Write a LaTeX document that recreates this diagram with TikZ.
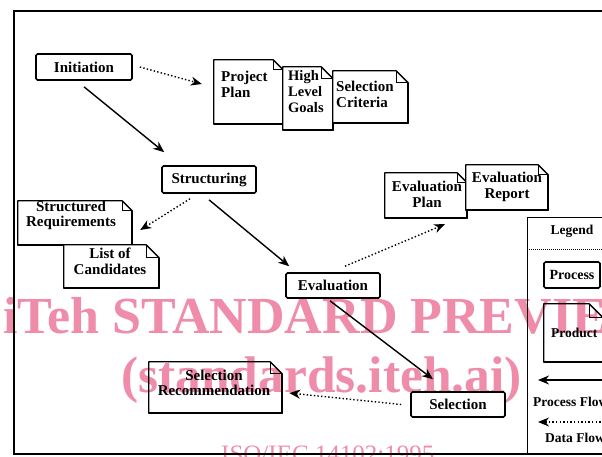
\documentclass[tikz,border=0pt]{standalone}
\usepackage{fontspec}
\setmainfont{Liberation Serif}
\usetikzlibrary{arrows.meta}
\definecolor{wmpink}{RGB}{238,140,170}
\newcommand\docout[2][10pt]{%
  \fill[white] (#2.north west) -- ([xshift=-#1]#2.north east) -- ([yshift=-#1]#2.north east) -- (#2.south east) -- (#2.south west) -- cycle;
  \draw[line width=1.3pt, line join=round] (#2.north west) -- ([xshift=-#1]#2.north east) -- ([yshift=-#1]#2.north east) -- (#2.south east) -- (#2.south west) -- cycle;
  \draw[line width=1.1pt] ([xshift=-#1]#2.north east) |- ([yshift=-#1]#2.north east);
  \draw[line width=2pt, line join=round] ([yshift=-#1]#2.north east) -- (#2.south east) -- (#2.south west);
}
\begin{document}
\begin{tikzpicture}[x=1pt,y=-1pt,
  procbox/.style={draw, line width=1.6pt, rounded corners=1.5pt, fill=white,
    font=\fontsize{15}{16}\selectfont\bfseries, inner sep=0pt},
  docbox/.style={inner sep=0pt, draw=none},
  doctext/.style={font=\fontsize{15}{15.5}\selectfont\bfseries, inner sep=0pt},
  legtext/.style={font=\fontsize{13.5}{14}\selectfont\bfseries, inner sep=0pt},
  flow/.style={line width=1.4pt, -{Stealth[length=11pt,width=9pt,inset=3.5pt]}},
  dataflow/.style={line width=1.4pt, dash pattern=on 1.4pt off 2.2pt,
    -{Stealth[length=11pt,width=9pt,inset=3.5pt]}},
  wm/.style={text=wmpink, font=\fontsize{52}{52}\selectfont\bfseries, inner sep=0pt, anchor=base west},
]
\useasboundingbox[fill=white] (0,0) rectangle (602,456);

% frame
\draw[line width=1.8pt] (620,11) -- (14,11) -- (14,454) -- (620,454);

% processes
\node[procbox, minimum width=96pt, minimum height=26pt] (init) at (84,67) {Initiation};
\node[procbox, minimum width=94pt, minimum height=27pt] (struct) at (209,179.5) {Structuring};
\node[procbox, minimum width=94pt, minimum height=25pt] (eval) at (333,285.5) {Evaluation};
\node[procbox, minimum width=94pt, minimum height=25pt] (sel) at (458,404.5) {Selection};

% documents
\node[docbox, minimum width=69pt, minimum height=64pt] (pp) at (248.5,92) {};
\docout{pp}
\node[doctext, anchor=west, align=left] (pptext) at (221,84.5) {Project\\Plan};
\node[docbox, minimum width=50pt, minimum height=63pt] (hlg) at (308,98.5) {};
\docout[12pt]{hlg}
\node[doctext, anchor=west, align=left, font=\fontsize{14.5}{16}\selectfont\bfseries] (hlgtext) at (288,91.5) {High\\Level\\Goals};
\node[docbox, minimum width=75pt, minimum height=52pt] (sc) at (370.5,97) {};
\docout[12pt]{sc}
\node[doctext, anchor=west, align=left] (sctext) at (336,94.5) {Selection\\Criteria};

\node[docbox, minimum width=114pt, minimum height=44pt] (sr) at (75,223) {};
\docout{sr}
\node[doctext, align=center] (srtext) at (71,215.5) {Structured\\Requirements};
\node[docbox, minimum width=95pt, minimum height=43pt] (loc) at (111.5,266.5) {};
\docout[13pt]{loc}
\node[doctext, align=center] (loctext) at (110,261.5) {List of\\Candidates};

\node[docbox, minimum width=82pt, minimum height=45pt] (ep) at (426,195.5) {};
\docout{ep}
\node[doctext, align=center] (eptext) at (427,194.5) {Evaluation\\Plan};
\node[docbox, minimum width=82pt, minimum height=45pt] (er) at (507,187.5) {};
\docout{er}
\node[doctext, align=center] (ertext) at (507,187) {Evaluation\\Report};

\node[docbox, minimum width=133pt, minimum height=51pt] (srec) at (215.5,387.5) {};
\docout[12pt]{srec}
\node[doctext, align=center] (srectext) at (214,383) {Selection\\Recommendation};

% flows
\draw[dataflow] ([xshift=7pt]init.east) -- ([xshift=-12pt,yshift=8pt]pp.west);
\draw[flow] ([yshift=-6pt]init.south) -- ([xshift=3pt,yshift=13pt]struct.north west);
\draw[dataflow] ([xshift=-19pt,yshift=-5pt]struct.south) -- ([xshift=8pt,yshift=-7pt]sr.east);
\draw[flow] ([yshift=-6pt]struct.south) -- ([xshift=4pt,yshift=6pt]eval.north west);
\draw[dataflow] ([xshift=12pt,yshift=6pt]eval.north) -- ([xshift=19pt,yshift=-6pt]ep.south);
\draw[flow] ([xshift=-3pt,yshift=-2pt]eval.south) -- ([xshift=-25pt,yshift=12pt]sel.north);
\draw[dataflow] ([xshift=-9pt]sel.west) -- ([xshift=7pt,yshift=-5.5pt]srec.east);

% legend
\node[draw, line width=1.4pt, minimum width=100pt, minimum height=237pt, anchor=north west, inner sep=0pt] (legend) at (527,217) {};
\draw[line width=0.6pt, dash pattern=on 1pt off 1pt] ([yshift=-32pt]legend.north west) -- ([yshift=-32pt]legend.north east);
\node[legtext] (legtitle) at (572,231) {Legend};
\node[procbox, minimum width=56pt, minimum height=26pt, font=\fontsize{14}{15}\selectfont\bfseries] (lproc) at (572,275) {Process};
\node[docbox, minimum width=59pt, minimum height=58pt] (lprod) at (573.5,333) {};
\docout[14pt]{lprod}
\node[legtext, anchor=west] (lprodtext) at (551,333) {Product};
\coordinate (pfr) at (615,380);
\coordinate (pfl) at (538,380);
\draw[flow] (pfr) -- (pfl);
\node[legtext, anchor=west] (pftext) at (533,402) {Process Flow};
\coordinate (dfr) at (615,422);
\coordinate (dfl) at (538,422);
\draw[dataflow] (dfr) -- (dfl);
\node[legtext, anchor=west] (dftext) at (545,438) {Data Flow};

% watermark
\begin{scope}[blend mode=multiply]
\node[wm] (wm1) at (3,333) {iTeh STANDARD PREVIEW};
\node[wm, font=\fontsize{51.5}{52}\selectfont\bfseries] (wm2) at (121,392) {(standards.iteh.ai)};
\node[wm, font=\fontsize{25}{25}\selectfont] (wm3) at (221,462) {ISO/IEC 14102:1995};
\end{scope}
\end{tikzpicture}
\end{document}
